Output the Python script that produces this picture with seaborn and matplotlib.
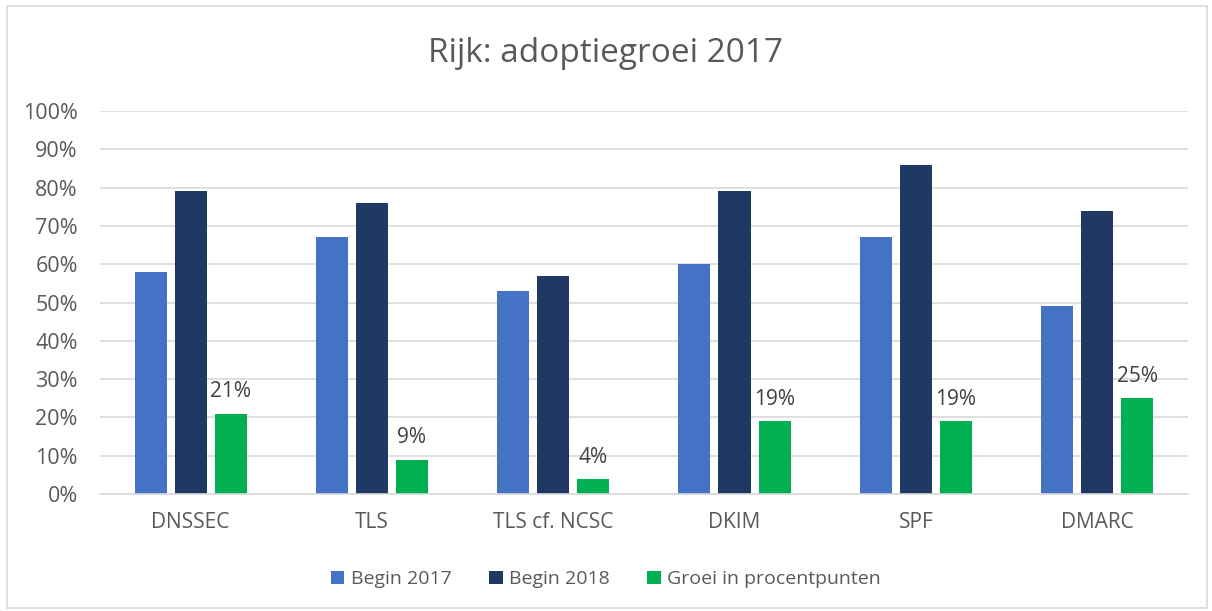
import matplotlib
matplotlib.use("Agg")
import matplotlib.pyplot as plt
import seaborn as sns
import pandas as pd
from matplotlib.patches import Rectangle

categories = ["DNSSEC", "TLS", "TLS cf. NCSC", "DKIM", "SPF", "DMARC"]
begin_2017 = [58, 67, 53, 60, 67, 49]
begin_2018 = [79, 76, 57, 79, 86, 74]
groei = [21, 9, 4, 19, 19, 25]
series_names = ["Begin 2017", "Begin 2018", "Groei in procentpunten"]
colors = ["#4472C4", "#203864", "#00B050"]
yticks = list(range(0, 101, 10))

rows = []
for name, vals in zip(series_names, [begin_2017, begin_2018, groei]):
    for c, v in zip(categories, vals):
        rows.append({"cat": c, "serie": name, "val": v})
df = pd.DataFrame(rows)

sns.set_theme(style="white")
plt.rcParams["font.family"] = ["Open Sans", "DejaVu Sans"]

fig = plt.figure(figsize=(12.12, 6.11), dpi=100)
ax = fig.add_axes([0.0825, 0.1915, 0.8975, 0.6268])

sns.barplot(data=df, x="cat", y="val", hue="serie", order=categories,
            hue_order=series_names, palette=colors, width=0.663, gap=0.2,
            saturation=1, ax=ax, legend=True, linewidth=0)

ax.set_ylim(0, 100)
ax.set_xlim(-0.5, len(categories) - 0.5)
ax.set_yticks(yticks)
ax.set_yticklabels([f"{t}%" for t in yticks])
ax.grid(axis="y", color="#D9D9D9", linewidth=1.2)
ax.set_axisbelow(True)
for s in ["left", "right", "top"]:
    ax.spines[s].set_visible(False)
ax.spines["bottom"].set_color("#D9D9D9")
ax.spines["bottom"].set_linewidth(1.2)
ax.tick_params(axis="both", length=0, labelsize=15, labelcolor="#595959")
ax.tick_params(axis="y", labelsize=15.5, pad=16)
ax.tick_params(axis="x", pad=13)
ax.set_xlabel("")
ax.set_ylabel("")

# data labels on growth bars
green_container = ax.containers[2]
ax.bar_label(green_container, labels=[f"{v}%" for v in groei], padding=8,
             fontsize=15, color="#404040")

handles, labels = ax.get_legend_handles_labels()
ax.get_legend().remove()
fig.legend(handles, labels, loc="center", bbox_to_anchor=(0.5, 0.052), ncol=3,
           frameon=False, fontsize=14, handlelength=0.7, handleheight=0.7,
           handletextpad=0.35, columnspacing=1.9, labelcolor="#595959")

fig.text(0.5, 0.913, "Rijk: adoptiegroei 2017", ha="center", va="center",
         fontsize=24, color="#595959")

fig.patches.append(Rectangle((0.006, 0.005), 0.99, 0.985, transform=fig.transFigure,
                             fill=False, edgecolor="#D9D9D9", linewidth=1.2))

fig.savefig("out.png", dpi=100, facecolor="white")
